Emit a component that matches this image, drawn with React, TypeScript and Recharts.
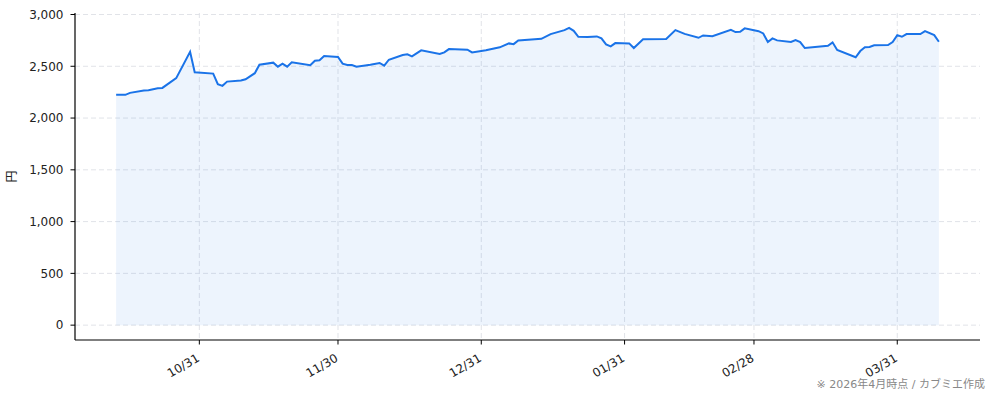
import { Area, AreaChart, CartesianGrid, XAxis, YAxis } from "recharts";

// trading days (approx.) and closing price in yen
const dates = [
  "2025-10-13", "2025-10-15", "2025-10-16", "2025-10-19", "2025-10-20", "2025-10-22",
  "2025-10-23", "2025-10-26", "2025-10-29", "2025-10-30", "2025-11-03", "2025-11-04",
  "2025-11-05", "2025-11-06", "2025-11-09", "2025-11-10", "2025-11-12", "2025-11-13",
  "2025-11-16", "2025-11-17", "2025-11-18", "2025-11-19", "2025-11-20", "2025-11-24",
  "2025-11-25", "2025-11-26", "2025-11-27", "2025-11-30", "2025-12-01", "2025-12-02",
  "2025-12-03", "2025-12-04", "2025-12-07", "2025-12-09", "2025-12-10", "2025-12-11",
  "2025-12-14", "2025-12-15", "2025-12-16", "2025-12-18", "2025-12-22", "2025-12-23",
  "2025-12-24", "2025-12-28", "2025-12-29", "2026-01-01", "2026-01-04", "2026-01-06",
  "2026-01-07", "2026-01-08", "2026-01-13", "2026-01-15", "2026-01-18", "2026-01-19",
  "2026-01-20", "2026-01-21", "2026-01-23", "2026-01-25", "2026-01-26", "2026-01-27",
  "2026-01-28", "2026-01-29", "2026-02-01", "2026-02-02", "2026-02-04", "2026-02-09",
  "2026-02-11", "2026-02-13", "2026-02-16", "2026-02-17", "2026-02-19", "2026-02-23",
  "2026-02-24", "2026-02-25", "2026-02-26", "2026-03-01", "2026-03-02", "2026-03-03",
  "2026-03-04", "2026-03-05", "2026-03-08", "2026-03-09", "2026-03-10", "2026-03-11",
  "2026-03-16", "2026-03-17", "2026-03-18", "2026-03-22", "2026-03-23", "2026-03-24",
  "2026-03-25", "2026-03-26", "2026-03-29", "2026-03-30", "2026-03-31", "2026-04-01",
  "2026-04-02", "2026-04-05", "2026-04-06", "2026-04-08", "2026-04-09",
];

const prices = [
  2224, 2224, 2243, 2265, 2269, 2288,
  2291, 2385, 2640, 2442, 2429, 2327,
  2311, 2352, 2362, 2375, 2433, 2515,
  2535, 2496, 2525, 2496, 2538, 2510,
  2554, 2558, 2599, 2590, 2525, 2512,
  2512, 2496, 2515, 2532, 2506, 2563,
  2609, 2615, 2596, 2654, 2618, 2634,
  2666, 2660, 2634, 2654, 2683, 2721,
  2714, 2750, 2765, 2811, 2849, 2871,
  2842, 2785, 2782, 2788, 2769, 2712,
  2692, 2724, 2721, 2676, 2760, 2763,
  2849, 2813, 2775, 2798, 2791, 2852,
  2830, 2833, 2866, 2839, 2817, 2734,
  2769, 2750, 2734, 2753, 2734, 2676,
  2698, 2731, 2657, 2587, 2647, 2683,
  2686, 2702, 2705, 2734, 2801, 2785,
  2811, 2811, 2839, 2801, 2737,
];

const tickDates = ["2025-10-31", "2025-11-30", "2025-12-31", "2026-01-31", "2026-02-28", "2026-03-31"];
const tickLabels = ["10/31", "11/30", "12/31", "01/31", "02/28", "03/31"];
const yTicks = [0, 500, 1000, 1500, 2000, 2500, 3000];

const BASE = Date.UTC(2025, 9, 31);
const toDay = (s: string) => {
  const [y, m, d] = s.split("-").map(Number);
  return Math.round((Date.UTC(y, m - 1, d) - BASE) / 86400000);
};

const data = dates.map((d, i) => ({ day: toDay(d), price: prices[i] }));
const xTicks = tickDates.map(toDay);

const FONT = "'DejaVu Sans', 'Noto Sans CJK JP', sans-serif";

const DateTick = (props: any) => {
  const { x, y, payload } = props;
  const idx = xTicks.indexOf(payload.value);
  const ax = x + 1;
  const ay = y + 14;
  return (
    <text
      x={ax}
      y={ay}
      textAnchor="end"
      transform={`rotate(-30, ${ax}, ${ay})`}
      fill="#222"
      fontSize={12}
      fontFamily={FONT}
    >
      {idx >= 0 ? tickLabels[idx] : ""}
    </text>
  );
};

export default function App() {
  return (
    <div style={{ position: "absolute", left: 0, top: 0, width: 994, height: 400, background: "#fff" }}>
      <AreaChart
        width={994}
        height={400}
        data={data}
        margin={{ top: 13, right: 14, bottom: 0, left: 0 }}
        style={{ fontFamily: FONT }}
      >
        <CartesianGrid stroke="#e1e3e8" strokeDasharray="5 3" syncWithTicks />
        <XAxis
          dataKey="day"
          type="number"
          domain={[-26.9, 168.9]}
          ticks={xTicks}
          height={60}
          tick={<DateTick />}
          tickSize={4.5}
          stroke="#000"
          axisLine={{ stroke: "#000", strokeWidth: 1.2 }}
          tickLine={{ stroke: "#000" }}
          allowDataOverflow
        />
        <YAxis
          type="number"
          domain={[-143.5, 3014.5]}
          ticks={yTicks}
          width={75}
          tickSize={4.5}
          tickMargin={7}
          tickFormatter={(v: number) => v.toLocaleString("en-US")}
          tick={{ fill: "#222", fontSize: 12, fontFamily: FONT }}
          axisLine={{ stroke: "#000", strokeWidth: 1.2 }}
          tickLine={{ stroke: "#000" }}
          allowDataOverflow
          label={{
            value: "円",
            angle: -90,
            position: "insideLeft",
            offset: 12,
            style: { fill: "#222", fontSize: 12, fontFamily: "'Noto Sans CJK JP', sans-serif", textAnchor: "middle" },
          }}
        />
        <Area
          type="linear"
          dataKey="price"
          stroke="#1a73e8"
          strokeWidth={2}
          fill="#1a73e8"
          fillOpacity={0.08}
          baseValue={0}
          dot={false}
          activeDot={false}
          isAnimationActive={false}
        />
      </AreaChart>
      <div
        style={{
          position: "absolute",
          right: 9,
          top: 378,
          fontSize: 11,
          lineHeight: "13px",
          color: "#888",
          fontFamily: FONT,
          whiteSpace: "nowrap",
        }}
      >
        ※ 2026年4月時点 / カブミエ作成
      </div>
    </div>
  );
}
